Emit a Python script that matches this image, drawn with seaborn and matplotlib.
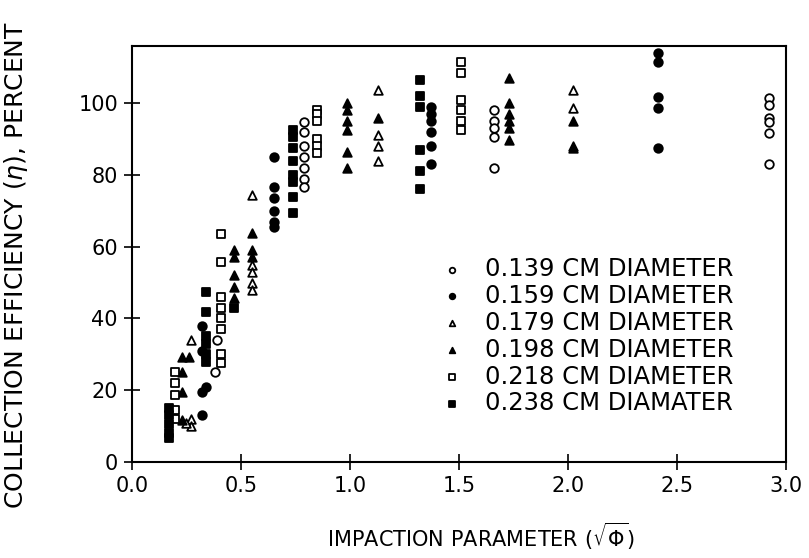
import matplotlib
matplotlib.use("Agg")
import matplotlib.pyplot as plt
import seaborn as sns
import pandas as pd

# values: impaction parameter (sqrt phi) vs efficiency %
d139_x = [0.38, 0.39, 0.79, 0.79, 0.79, 0.79, 0.79, 0.79, 0.79,
          1.66, 1.66, 1.66, 1.66, 1.66,
          2.92, 2.92, 2.92, 2.92, 2.92, 2.92]
d139_y = [25, 34, 94.7, 92, 88, 85, 82, 79, 76.6,
          98, 95, 93, 90.5, 82,
          101.4, 99.4, 96, 94.7, 91.6, 83]

d159_x = [0.32, 0.32, 0.32, 0.32, 0.34,
          0.65, 0.65, 0.65, 0.65, 0.65, 0.65,
          1.37, 1.37, 1.37, 1.37, 1.37, 1.37,
          2.41, 2.41, 2.41, 2.41, 2.41]
d159_y = [38, 31, 19.6, 13, 21,
          85, 76.7, 73.5, 70, 67, 65.5,
          99, 97, 95, 92, 88, 83,
          114, 111.4, 101.7, 98.6, 87.5]

d179_x = [0.27, 0.27, 0.27, 0.25,
          0.55, 0.55, 0.55, 0.55, 0.55,
          1.13, 1.13, 1.13, 1.13,
          2.02, 2.02, 2.02]
d179_y = [34, 12, 10, 11,
          74.4, 55, 53, 50, 48,
          103.6, 91, 88, 84,
          103.6, 98.6, 88]

d198_x = [0.23, 0.23, 0.23, 0.23, 0.26,
          0.47, 0.47, 0.47, 0.47, 0.47,
          0.55, 0.55, 0.55,
          0.985, 0.985, 0.985, 0.985, 0.985, 0.985,
          1.13,
          1.73, 1.73, 1.73, 1.73, 1.73, 1.73,
          2.02, 2.02]
d198_y = [29.3, 25, 19.5, 11.7, 29.2,
          59, 57, 52, 48.7, 45.7,
          63.8, 59, 57,
          100, 98, 95, 92.5, 86.4, 82,
          96,
          107, 100, 97, 95, 93, 89.7,
          95, 87.5]

d218_x = [0.20, 0.20, 0.20, 0.20, 0.20,
          0.41, 0.41, 0.41, 0.41, 0.41, 0.41, 0.41, 0.41,
          0.85, 0.85, 0.85, 0.85, 0.85, 0.85,
          1.51, 1.51, 1.51, 1.51, 1.51, 1.51]
d218_y = [25, 22, 18.7, 14.5, 12,
          63.5, 55.8, 46, 43, 40, 37, 30, 27.6,
          98, 97, 95, 90, 88, 86,
          111.4, 108.3, 101, 98, 95, 92.5]

d238_x = [0.17, 0.17, 0.17, 0.17, 0.17,
          0.34, 0.34, 0.34, 0.34, 0.34, 0.34,
          0.47,
          0.74, 0.74, 0.74, 0.74, 0.74, 0.74, 0.74, 0.74,
          1.32, 1.32, 1.32, 1.32, 1.32, 1.32]
d238_y = [15, 13, 10.5, 8, 6.7,
          47.4, 41.8, 35, 33, 30, 28,
          42.9,
          92.5, 90.5, 87.5, 84, 80, 78, 73.8, 69.3,
          106.4, 102, 99, 87, 81, 76]

labels = ["0.139 CM DIAMETER", "0.159 CM DIAMETER", "0.179 CM DIAMETER",
          "0.198 CM DIAMETER", "0.218 CM DIAMETER", "0.238 CM DIAMATER"]
xs = [d139_x, d159_x, d179_x, d198_x, d218_x, d238_x]
ys = [d139_y, d159_y, d179_y, d198_y, d218_y, d238_y]
markers = ["o", "o", "^", "^", "s", "s"]
filled = [False, True, False, True, False, True]

sns.set_theme(style="ticks")
plt.rcParams["font.family"] = ["DejaVu Sans"]
plt.rcParams["mathtext.fontset"] = "dejavusans"
plt.rcParams["text.color"] = "black"
plt.rcParams["axes.labelcolor"] = "black"

fig = plt.figure(figsize=(8.09, 5.58), dpi=100)
ax = fig.add_axes([0.163, 0.172, 0.809, 0.746])

for x, y, lab, m, f in zip(xs, ys, labels, markers, filled):
    df = pd.DataFrame({"x": x, "y": y})
    sns.scatterplot(data=df, x="x", y="y", ax=ax, marker=m, s=38,
                    color="black" if f else "white", edgecolor="black",
                    linewidth=1.3, label=lab, zorder=3)

ax.set_xlim(0, 3.0)
ax.set_ylim(0, 116)
ax.set_xticks([0, 0.5, 1.0, 1.5, 2.0, 2.5, 3.0])
ax.set_xticklabels(["0.0", "0.5", "1.0", "1.5", "2.0", "2.5", "3.0"])
ax.set_yticks([0, 20, 40, 60, 80, 100])
ax.tick_params(direction="inout", length=12, width=1.2, labelsize=15,
               colors="black", pad=4)
for sp in ax.spines.values():
    sp.set_visible(True)
    sp.set_linewidth(1.5)
    sp.set_color("black")

ax.set_xlabel(r"IMPACTION PARAMETER $(\sqrt{\Phi})$", fontsize=15)
ax.xaxis.set_label_coords(0.533, -0.141)
ax.set_ylabel(r"COLLECTION EFFICIENCY $(\eta)$, PERCENT", fontsize=18)
ax.yaxis.set_label_coords(-0.156, 0.474)

leg = ax.legend(loc="upper left", bbox_to_anchor=(0.452, 0.522), frameon=False,
                fontsize=17.5, markerscale=0.65, handletextpad=0.85,
                labelspacing=0.12, borderpad=0, handlelength=1.0)

fig.savefig("out.png", dpi=100)
